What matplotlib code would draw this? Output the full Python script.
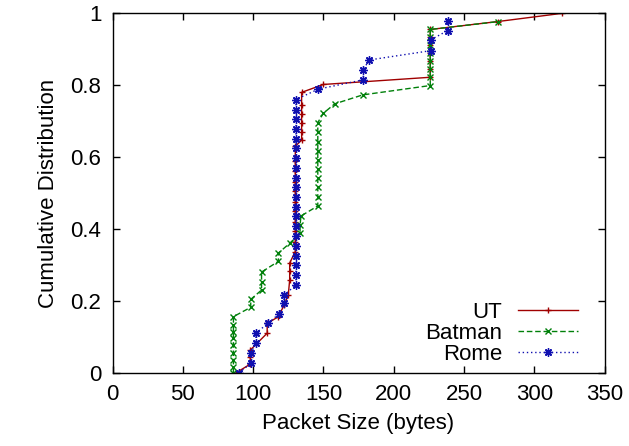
import matplotlib
matplotlib.use('Agg')
import matplotlib.pyplot as plt

# CDF of packet sizes
ut_x = [88, 98, 98, 98, 110, 110, 118, 122, 125, 126, 126, 126,
        130, 130, 130, 130, 130, 130, 130, 130, 130, 130, 130,
        134.5, 134.5, 134.5, 134.5, 134.5, 134.5, 150,
        226, 226, 226, 226, 226, 226, 226, 274, 320]
ut_y = [0, 0.024, 0.043, 0.063, 0.11, 0.137, 0.156, 0.188, 0.216, 0.258, 0.282, 0.305,
        0.337, 0.365, 0.395, 0.42, 0.45, 0.475, 0.505, 0.53, 0.56, 0.59, 0.63,
        0.647, 0.67, 0.695, 0.72, 0.745, 0.78, 0.802,
        0.822, 0.845, 0.868, 0.89, 0.912, 0.935, 0.955, 0.977, 1.0]

bat_x = [86, 86, 86, 86, 86, 86, 86, 86, 86, 98.3, 98.3, 106, 106, 106,
         118, 118, 126, 133.4, 133.4, 134,
         146, 146, 146, 146, 146, 146, 146, 146, 146, 146,
         150, 158, 178, 226, 226, 226, 226, 226, 226, 226, 226, 274.5]
bat_y = [0, 0.017, 0.035, 0.054, 0.077, 0.096, 0.114, 0.133, 0.156, 0.182, 0.204,
         0.23, 0.253, 0.28, 0.31, 0.333, 0.36, 0.388, 0.41, 0.436,
         0.464, 0.49, 0.516, 0.541, 0.566, 0.592, 0.618, 0.643, 0.669, 0.696,
         0.722, 0.748, 0.773, 0.799, 0.822, 0.845, 0.868, 0.89, 0.912, 0.935, 0.955, 0.977]

rome_x = [90, 98.3, 98.3, 102, 102, 110.4, 118.2, 122, 122,
          130.5, 130.5, 130.5, 130.5, 130.5, 130.5, 130.5, 130.5, 130.5, 130.5,
          130.5, 130.5, 130.5, 130.5, 130.5, 130.5, 130.5, 130.5, 130.5, 130.5,
          146.4, 178.4, 178.4, 182.4, 226.3, 226.3, 238.4, 238.4]
rome_y = [0, 0.026, 0.054, 0.082, 0.11, 0.137, 0.163, 0.193, 0.216,
          0.244, 0.272, 0.299, 0.326, 0.353, 0.38, 0.408, 0.435, 0.462, 0.489,
          0.516, 0.543, 0.57, 0.597, 0.624, 0.651, 0.678, 0.705, 0.732, 0.76,
          0.789, 0.815, 0.842, 0.87, 0.896, 0.926, 0.952, 0.979]

plt.rcParams['font.family'] = ['Liberation Sans', 'DejaVu Sans']
plt.rcParams['font.size'] = 16

fig = plt.figure(figsize=(6.29, 4.46), dpi=100)
ax = fig.add_axes([0.1789, 0.1643, 0.7823, 0.8059])

ax.plot(ut_x, ut_y, color='#a00000', linestyle='-', linewidth=1.0,
        marker='+', markersize=5, markeredgewidth=1.0, label='UT')
ax.plot(bat_x, bat_y, color='#00800a', linestyle=(0, (4, 2)), linewidth=1.0,
        marker='x', markersize=5, markeredgewidth=1.0, label='Batman')
ax.plot(rome_x, rome_y, color='#1010b0', linestyle=(0, (1, 2)), linewidth=1.0,
        marker=(8, 2, 0), markersize=6, markeredgewidth=1.0, label='Rome')

ax.set_xlim(0, 350)
ax.set_ylim(0, 1)
ax.set_xticks(range(0, 351, 50))
ax.set_yticks([0, 0.2, 0.4, 0.6, 0.8, 1])
ax.set_yticklabels(['0', '0.2', '0.4', '0.6', '0.8', '1'])
ax.tick_params(direction='in', top=True, right=True, length=5, width=1, pad=8)
for s in ax.spines.values():
    s.set_linewidth(1.0)

ax.set_xlabel('Packet Size (bytes)', labelpad=6)
ax.set_ylabel('Cumulative Distribution', labelpad=8)

ax.legend(loc='upper right', bbox_to_anchor=(0.946, 0.196), markerfirst=False,
          frameon=False, handlelength=2.7, handletextpad=0.7, labelspacing=0.0,
          borderpad=0, borderaxespad=0)

fig.savefig('out.png', dpi=100)
